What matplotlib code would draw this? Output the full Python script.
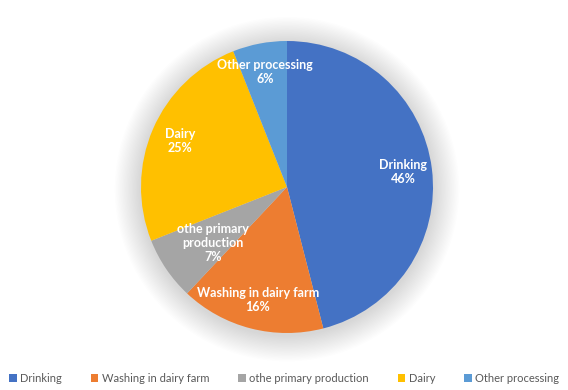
import numpy as np
import matplotlib.pyplot as plt
from matplotlib.patches import Circle

plt.rcParams['font.family'] = ['Lato', 'DejaVu Sans']

categories = ['Drinking', 'Washing in dairy farm', 'othe primary production', 'Dairy', 'Other processing']
label_names = ['Drinking', 'Washing in dairy farm', 'othe primary\nproduction', 'Dairy', 'Other processing']
shares = [46, 16, 7, 25, 6]
colors = ['#4472C4', '#ED7D31', '#A5A5A5', '#FFC000', '#5B9BD5']

fig = plt.figure(figsize=(5.68, 3.9), dpi=100)
ax = fig.add_axes([141 / 568, 57 / 390, 292 / 568, 292 / 390])

# soft shadow around the pie
for i in range(20):
    r = 1.0 + 0.009 * (i + 1)
    ax.add_patch(Circle((0, -0.015), r, color='black', alpha=0.009, lw=0, zorder=0, clip_on=False))

labels = [f'{n}\n{v}%' for n, v in zip(label_names, shares)]
wedges, texts = ax.pie(shares, colors=colors, startangle=90, counterclock=False,
                       labels=labels, labeldistance=0.8, radius=1.0,
                       wedgeprops=dict(linewidth=0),
                       textprops=dict(color='white', fontsize=9, fontweight='bold', ha='center', va='center'))
for t in texts:
    t.set_horizontalalignment('center')
    t.set_multialignment('center')
# nudge the small grey slice label inward a bit
x, y = texts[2].get_position()
texts[2].set_position((x * 0.92 + 0.1, y * 0.85))

ax.set_xlim(-1, 1)
ax.set_ylim(-1, 1)
ax.set_aspect('equal')
ax.axis('off')

fig.legend(wedges, categories, loc='lower center', ncol=5, bbox_to_anchor=(0.5, -0.01),
           frameon=False, fontsize=8, labelcolor='#595959', handlelength=0.7, handleheight=0.7,
           handletextpad=0.3, columnspacing=2.6)

fig.savefig('out.png', dpi=100)
